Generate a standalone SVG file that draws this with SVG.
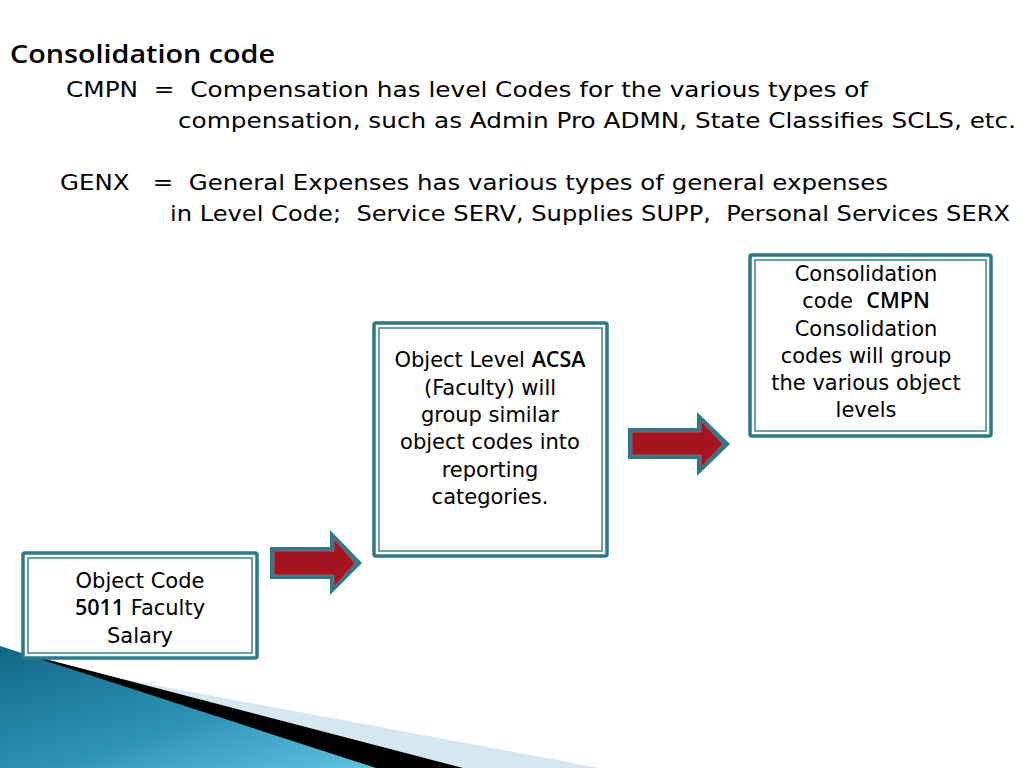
<svg xmlns="http://www.w3.org/2000/svg" width="1024" height="768" viewBox="0 0 1024 768">
<defs>
<linearGradient id="tealGrad" x1="0" y1="0" x2="1" y2="1">
<stop offset="0" stop-color="#0f6884"/>
<stop offset="0.55" stop-color="#2d93b6"/>
<stop offset="1" stop-color="#62c3e2"/>
</linearGradient>
<style>
.hdr{font-family:"DejaVu Sans","Liberation Sans",sans-serif;font-size:22px;fill:#000}
.title{font-family:"Open Sans","Liberation Sans",sans-serif;font-size:25px;font-weight:600;fill:#000}
.lbl{font-family:"DejaVu Sans","Liberation Sans",sans-serif;font-size:21px;fill:#000;text-anchor:middle}
.b{font-family:"Open Sans","DejaVu Sans",sans-serif;font-weight:600;font-size:21.5px}
.outer{fill:#fff;stroke:#2b7a8b;stroke-width:3.5}
.inner{fill:none;stroke:#2b7a8b;stroke-width:1.4}
.arOut{fill:#2b7a8b}
.arIn{fill:#a3141f;stroke:#b8506a;stroke-width:1}
</style>
</defs>
<rect width="1024" height="768" fill="#fff"/>

<!-- decoration -->
<polygon points="20,660 600,768 0,768" fill="#d5e7f0"/>
<polygon points="30,655 463,768 0,768" fill="#000"/>
<polygon points="0,646 376,768 0,768" fill="url(#tealGrad)"/>

<!-- header text -->
<text class="title" x="10" y="63" textLength="265" lengthAdjust="spacingAndGlyphs">Consolidation code</text>
<text class="hdr" x="66" y="97" xml:space="preserve" textLength="802" lengthAdjust="spacingAndGlyphs">CMPN  =  Compensation has level Codes for the various types of</text>
<text class="hdr" x="178" y="128" textLength="838" lengthAdjust="spacingAndGlyphs">compensation, such as Admin Pro ADMN, State Classifies SCLS, etc.</text>
<text class="hdr" x="60" y="190" xml:space="preserve" textLength="828" lengthAdjust="spacingAndGlyphs">GENX   =  General Expenses has various types of general expenses</text>
<text class="hdr" x="170" y="221" xml:space="preserve" textLength="840" lengthAdjust="spacingAndGlyphs">in Level Code;  Service SERV, Supplies SUPP,  Personal Services SERX</text>

<!-- connectors -->
<g id="connectors">
<g id="arrow1">
<polygon class="arOut" points="270,547 330,547 330,530 362,563 330,595 330,579 270,579"/>
<polygon class="arIn" points="274,551 334,551 334,539 355,563 334,587 334,575 274,575"/>
</g>
<g id="arrow2">
<polygon class="arOut" points="628,428 697,428 697,412 730,444 697,476 697,459 628,459"/>
<polygon class="arIn" points="632,432 701,432 701,421 723,444 701,467 701,455 632,455"/>
</g>
</g>

<!-- nodes -->
<g id="node-object-code">
<rect class="outer" x="23" y="553" width="234" height="105" rx="2"/>
<rect class="inner" x="28" y="558" width="224" height="95"/>
<text class="lbl" x="140" y="588">Object Code</text>
<text class="lbl" x="140" y="615"><tspan class="b">5011</tspan> Faculty</text>
<text class="lbl" x="140" y="643">Salary</text>
</g>

<g id="node-object-level">
<rect class="outer" x="374" y="323" width="233" height="233" rx="2"/>
<rect class="inner" x="379" y="328" width="223" height="223"/>
<text class="lbl" x="490" y="367">Object Level <tspan class="b">ACSA</tspan></text>
<text class="lbl" x="490" y="395">(Faculty) will</text>
<text class="lbl" x="490" y="422">group similar</text>
<text class="lbl" x="490" y="449">object codes into</text>
<text class="lbl" x="490" y="477">reporting</text>
<text class="lbl" x="490" y="504">categories.</text>
</g>

<g id="node-consolidation">
<rect class="outer" x="750" y="255" width="241" height="181" rx="2"/>
<rect class="inner" x="755" y="260" width="231" height="171"/>
<text class="lbl" x="866" y="281">Consolidation</text>
<text class="lbl" x="866" y="308" xml:space="preserve">code  <tspan class="b">CMPN</tspan></text>
<text class="lbl" x="866" y="336">Consolidation</text>
<text class="lbl" x="866" y="363">codes will group</text>
<text class="lbl" x="866" y="390">the various object</text>
<text class="lbl" x="866" y="417">levels</text>
</g>
</svg>
